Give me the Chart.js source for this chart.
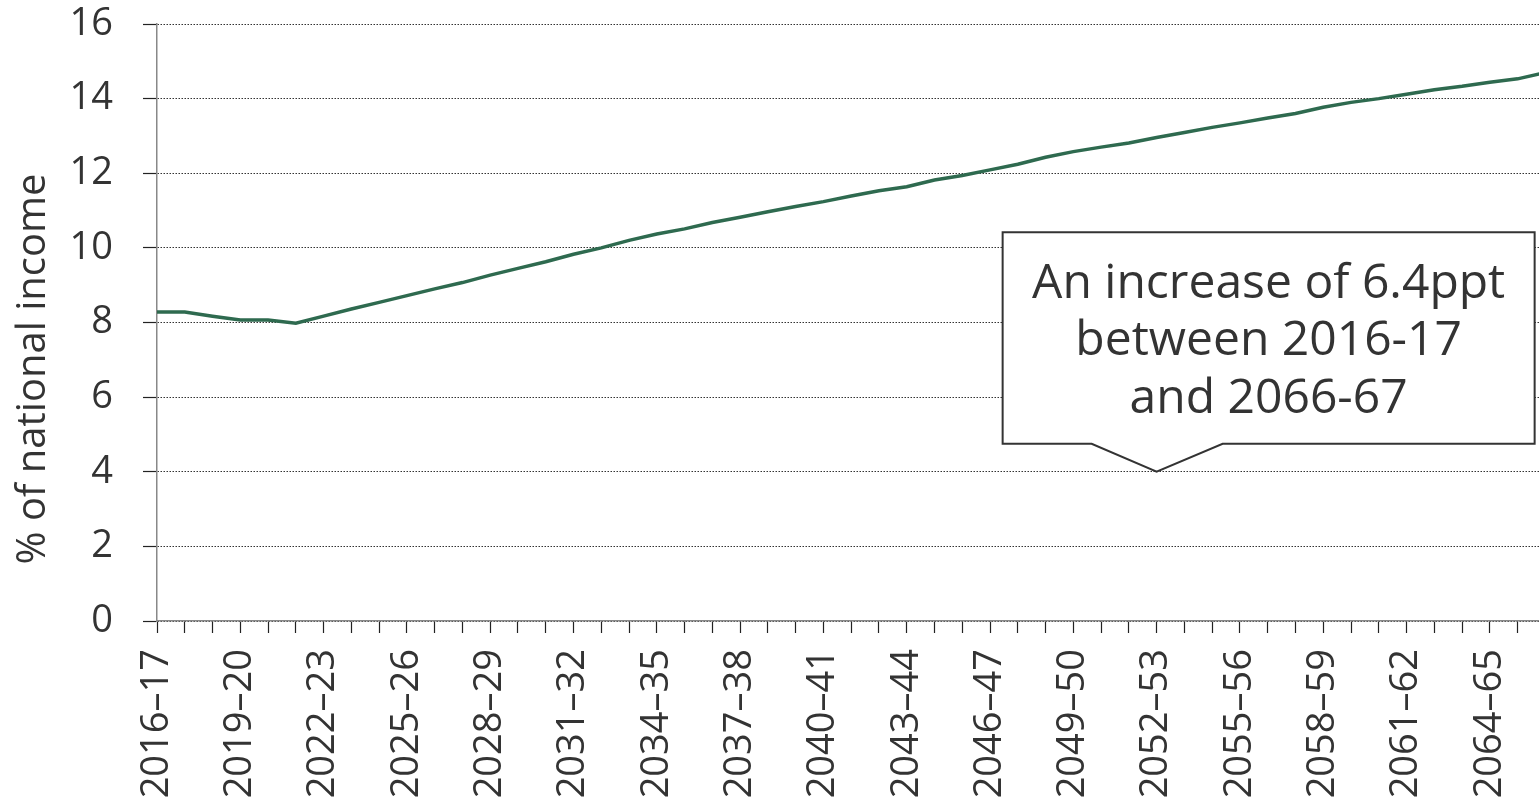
<!DOCTYPE html>
<html>
<head>
<meta charset="utf-8">
<script src="https://cdn.jsdelivr.net/npm/chart.js@4.4.1/dist/chart.umd.min.js"></script>
<style>
  html, body { margin: 0; padding: 0; background: #fff; overflow: hidden; }
  canvas { display: block; }
</style>
</head>
<body>
<canvas id="chart" width="1539" height="803"></canvas>
<script>
const yearLabels = [
  '2016–17', '2017–18', '2018–19', '2019–20', '2020–21', '2021–22', '2022–23', '2023–24',
  '2024–25', '2025–26', '2026–27', '2027–28', '2028–29', '2029–30', '2030–31', '2031–32',
  '2032–33', '2033–34', '2034–35', '2035–36', '2036–37', '2037–38', '2038–39', '2039–40',
  '2040–41', '2041–42', '2042–43', '2043–44', '2044–45', '2045–46', '2046–47', '2047–48',
  '2048–49', '2049–50', '2050–51', '2051–52', '2052–53', '2053–54', '2054–55', '2055–56',
  '2056–57', '2057–58', '2058–59', '2059–60', '2060–61', '2061–62', '2062–63', '2063–64',
  '2064–65', '2065–66', '2066–67'
];

// % of national income
const spending = [
  8.28, 8.28, 8.17, 8.07, 8.07, 7.98, 8.17, 8.36, 8.54, 8.72,
  8.90, 9.07, 9.27, 9.45, 9.63, 9.83, 10.00, 10.20, 10.37, 10.51,
  10.68, 10.82, 10.97, 11.11, 11.24, 11.39, 11.53, 11.64, 11.82, 11.94,
  12.09, 12.24, 12.43, 12.58, 12.70, 12.81, 12.96, 13.09, 13.23, 13.35,
  13.48, 13.60, 13.77, 13.90, 14.00, 14.12, 14.24, 14.33, 14.44, 14.53,
  14.70
];

const yTicks = [0, 2, 4, 6, 8, 10, 12, 14, 16];
const yTitle = '% of national income';

// callout
const calloutLines = ['An increase of 6.4ppt', 'between 2016-17', 'and 2066-67'];
const calloutIndex = 36;
const calloutValue = 4;

const textColor = '#333333';
const fontFamily = "'Open Sans', 'Noto Sans', sans-serif";

// y title sits a bit below the axis middle in the original, so draw it by hand
const yTitlePlugin = {
  id: 'yTitle',
  afterDraw(chart) {
    const { ctx, chartArea } = chart;
    ctx.save();
    ctx.translate(34, chartArea.top + 345);
    ctx.rotate(-Math.PI / 2);
    ctx.fillStyle = textColor;
    ctx.font = '40px ' + fontFamily;
    ctx.textAlign = 'center';
    ctx.textBaseline = 'middle';
    ctx.fillText(yTitle, 0, 0);
    ctx.restore();
  }
};

const calloutPlugin = {
  id: 'callout',
  afterDatasetsDraw(chart) {
    const { ctx, scales } = chart;
    const tx = scales.x.getPixelForValue(calloutIndex);
    const ty = scales.y.getPixelForValue(calloutValue);
    const left = tx - 154, right = tx + 378;
    const top = ty - 239.5, bottom = ty - 28;
    ctx.save();
    ctx.beginPath();
    ctx.moveTo(left, top);
    ctx.lineTo(right, top);
    ctx.lineTo(right, bottom);
    ctx.lineTo(tx + 66, bottom);
    ctx.lineTo(tx, ty);
    ctx.lineTo(tx - 65, bottom);
    ctx.lineTo(left, bottom);
    ctx.closePath();
    ctx.fillStyle = '#ffffff';
    ctx.fill();
    ctx.lineWidth = 2;
    ctx.strokeStyle = '#333333';
    ctx.lineJoin = 'miter';
    ctx.stroke();

    ctx.fillStyle = textColor;
    ctx.font = '48px ' + fontFamily;
    ctx.textAlign = 'center';
    ctx.textBaseline = 'alphabetic';
    const cx = (left + right) / 2;
    calloutLines.forEach((line, i) => {
      ctx.fillText(line, cx, ty - 174 + i * 57.5);
    });
    ctx.restore();
  }
};

const ctx = document.getElementById('chart').getContext('2d');

new Chart(ctx, {
  type: 'line',
  data: {
    datasets: [{
      data: spending.map((v, i) => ({ x: i, y: v })),
      borderColor: '#2e6a4f',
      borderWidth: 3.5,
      pointRadius: 0,
      tension: 0,
      fill: false
    }]
  },
  options: {
    responsive: false,
    animation: false,
    events: [],
    layout: { padding: { top: 24, right: 0, bottom: 0, left: 0 } },
    plugins: {
      legend: { display: false },
      tooltip: { enabled: false }
    },
    scales: {
      x: {
        type: 'linear',
        min: 0,
        max: 49.77,
        grid: {
          drawOnChartArea: false,
          drawTicks: true,
          tickLength: 12,
          tickColor: '#222222',
          tickWidth: 1.2
        },
        border: { display: true, color: '#888888', width: 1.5 },
        ticks: {
          stepSize: 1,
          autoSkip: false,
          includeBounds: false,
          maxRotation: 90,
          minRotation: 90,
          padding: 16,
          color: textColor,
          font: { family: fontFamily, size: 38 },
          callback: v => (Number.isInteger(v) && v % 3 === 0) ? yearLabels[v] : ''
        },
        afterFit(scale) {
          scale.height = 182;
          scale.paddingLeft = 0;
          scale.paddingRight = 0;
        }
      },
      y: {
        min: 0,
        max: 16,
        afterBuildTicks(scale) {
          scale.ticks = yTicks.map(v => ({ value: v }));
        },
        grid: {
          color: '#333333',
          lineWidth: 1,
          drawTicks: true,
          tickLength: 14,
          tickColor: '#222222',
          tickWidth: 1.2
        },
        border: { display: true, color: '#888888', width: 1.5, dash: [1.5, 1.5] },
        ticks: {
          padding: 30,
          color: textColor,
          font: { family: fontFamily, size: 38 }
        },
        afterFit(scale) {
          scale.width = 157;
          scale.paddingTop = 0;
          scale.paddingBottom = 0;
        }
      }
    }
  },
  plugins: [calloutPlugin, yTitlePlugin]
});
</script>
</body>
</html>
